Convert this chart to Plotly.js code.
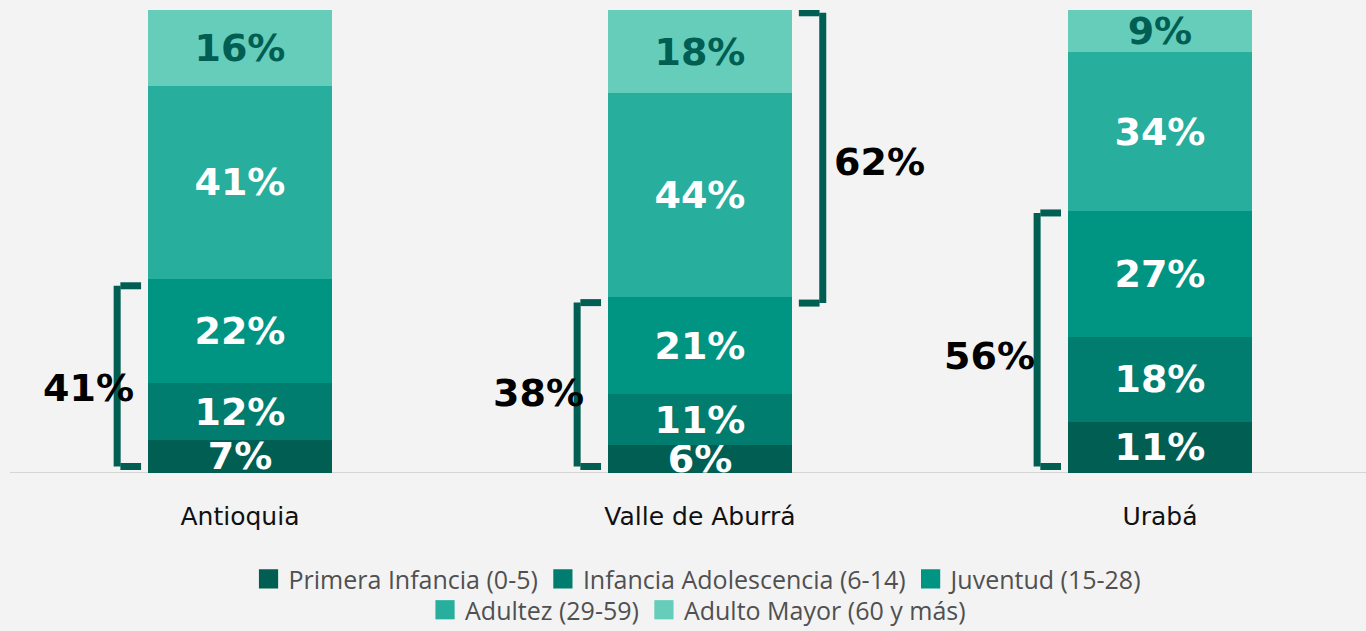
<!DOCTYPE html>
<html>
<head>
<meta charset="utf-8">
<script src="https://cdn.plot.ly/plotly-3.0.1.min.js"></script>
<style>
  html, body { margin: 0; padding: 0; background: #f3f3f3; }
  #chart { width: 1366px; height: 631px; }
</style>
</head>
<body>
<div id="chart"></div>
<script>
// ---- data ----
const categories = ['Antioquia', 'Valle de Aburrá', 'Urabá'];
const seriesNames = ['Primera Infancia (0-5)', 'Infancia Adolescencia (6-14)', 'Juventud (15-28)', 'Adultez (29-59)', 'Adulto Mayor (60 y más)'];
const primeraInfancia = [7, 6, 11];
const infanciaAdolescencia = [12, 11, 18];
const juventud = [22, 21, 27];
const adultez = [41, 44, 34];
const adultoMayor = [16, 18, 9];
// bracket groups: category index, first and last series index covered, label
const bracketCats = [0, 1, 1, 2];
const bracketFrom = [0, 0, 3, 0];
const bracketTo = [2, 2, 4, 2];
const bracketLabels = ['41%', '38%', '62%', '56%'];

// ---- styling ----
const colors = ['#005E52', '#007D6F', '#009483', '#27AE9C', '#66CDBB'];
const textColors = ['#ffffff', '#ffffff', '#ffffff', '#ffffff', '#005E52'];
const series = [primeraInfancia, infanciaAdolescencia, juventud, adultez, adultoMayor];
const bracketSide = [-1, -1, 1, -1];
const bracketLabelOffset = [-0.33, -0.35, 0.39, -0.37];
const bracketLabelShift = [-12, -8, -4, -16];
const bracketPadLow = [1.4, 1.4, -1.3, 1.4];
const bracketPadHigh = [1.4, 1.2, 0.6, 0.4];

const traces = series.map((vals, i) => ({
  type: 'bar',
  name: seriesNames[i],
  x: categories,
  y: vals,
  text: vals.map(v => v + '%'),
  textposition: 'inside',
  insidetextanchor: 'middle',
  textangle: 0,
  textfont: { family: 'DejaVu Sans', size: 38, color: textColors[i], weight: 'bold' },
  marker: { color: colors[i], line: { width: 0 } },
  legend: i < 3 ? 'legend' : 'legend2',
  hoverinfo: 'skip'
}));

const totals = categories.map((c, k) => series.reduce((s, arr) => s + arr[k], 0));
function cum(k, upto) {
  let s = 0;
  for (let i = 0; i < upto; i++) s += series[i][k];
  return s / totals[k] * 100;
}

const shapes = [
  { type: 'line', xref: 'x', yref: 'y', x0: -0.5, x1: 2.6, y0: 0, y1: 0,
    line: { color: '#d6d6d6', width: 2 }, layer: 'below' }
];
const annotations = [];
const vOff = 0.267, hOff = 0.215;
bracketCats.forEach((k, b) => {
  const side = bracketSide[b];
  const yLow = cum(k, bracketFrom[b]) + bracketPadLow[b];
  const yHigh = cum(k, bracketTo[b] + 1) - bracketPadHigh[b];
  const xv = k + side * vOff;
  const xh = k + side * hOff;
  const ln = { color: '#005E52', width: 7 };
  shapes.push({ type: 'line', xref: 'x', yref: 'y', x0: xv, x1: xv, y0: yLow, y1: yHigh, line: ln });
  shapes.push({ type: 'line', xref: 'x', yref: 'y', x0: xv - side * 0.007, x1: xh, y0: yLow, y1: yLow, line: ln });
  shapes.push({ type: 'line', xref: 'x', yref: 'y', x0: xv - side * 0.007, x1: xh, y0: yHigh, y1: yHigh, line: ln });
  annotations.push({
    xref: 'x', yref: 'y', x: k + bracketLabelOffset[b], y: (yLow + yHigh) / 2,
    yshift: bracketLabelShift[b],
    text: bracketLabels[b], showarrow: false,
    font: { family: 'DejaVu Sans', size: 38, color: '#000000', weight: 'bold' },
    xanchor: 'center', yanchor: 'middle'
  });
});

const legendCommon = {
  orientation: 'h', xanchor: 'center', yanchor: 'middle', x: 0.511,
  bgcolor: 'rgba(0,0,0,0)', traceorder: 'normal',
  font: { family: 'Open Sans', size: 25, color: '#505050' }
};

const layout = {
  width: 1366, height: 631,
  paper_bgcolor: '#f3f3f3', plot_bgcolor: 'rgba(0,0,0,0)',
  margin: { l: 0, r: 0, t: 10, b: 158, autoexpand: false },
  barmode: 'stack', barnorm: 'percent', bargap: 0.6,
  uniformtext: { minsize: 38, mode: 'show' },
  xaxis: {
    type: 'category', range: [-0.5217, 2.448], showgrid: false, zeroline: false,
    showline: false, ticks: '', ticklabelstandoff: 26,
    tickfont: { family: 'DejaVu Sans', size: 25, color: '#111111' }, fixedrange: true
  },
  yaxis: { range: [0, 100], visible: false, fixedrange: true },
  showlegend: true,
  legend: Object.assign({}, legendCommon, { y: -0.2290 }),
  legend2: Object.assign({}, legendCommon, { y: -0.2959 }),
  shapes: shapes,
  annotations: annotations
};

Plotly.newPlot('chart', traces, layout, { displayModeBar: false, staticPlot: true }).then(() => {
  document.querySelectorAll('.legendpoints path').forEach(p => {
    const t = p.getAttribute('transform') || '';
    p.setAttribute('transform', t + ' scale(1.6)');
  });
});
</script>
</body>
</html>
